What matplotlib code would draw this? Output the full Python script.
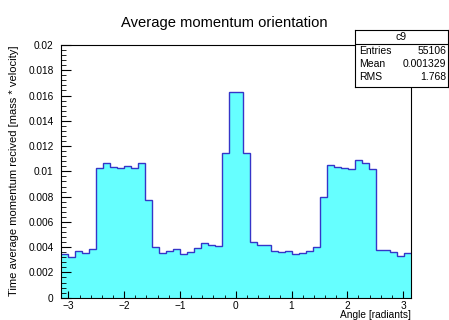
import numpy as np
import matplotlib
matplotlib.use("Agg")
import matplotlib.pyplot as plt
from matplotlib.ticker import MultipleLocator, FuncFormatter

plt.rcParams['font.family'] = ['Liberation Sans', 'DejaVu Sans']

# histogram contents, 50 bins over [-pi, pi]
values = [0.00348, 0.00325, 0.00367, 0.00351, 0.00385,
          0.01024, 0.01063, 0.01032, 0.01029, 0.01040,
          0.01029, 0.01063, 0.00770, 0.00398, 0.00351,
          0.00369, 0.00385, 0.00343, 0.00364, 0.00390,
          0.00435, 0.00414, 0.00406, 0.01142, 0.01625,
          0.01631, 0.01142, 0.00438, 0.00414, 0.00414,
          0.00369, 0.00361, 0.00369, 0.00343, 0.00351,
          0.00369, 0.00398, 0.00794, 0.01050, 0.01037,
          0.01029, 0.01018, 0.01087, 0.01069, 0.01018,
          0.00377, 0.00377, 0.00364, 0.00330, 0.00351]
edges = np.linspace(-np.pi, np.pi, len(values) + 1)

stat_names = ["Entries", "Mean", "RMS"]
stat_values = ["55106", "0.001329", "1.768"]

W, H = 449, 320
fig = plt.figure(figsize=(W / 100, H / 100), dpi=100)

# main frame (pixel coords of the reference)
ax = fig.add_axes([60.5 / W, 1 - 297.7 / H, (411 - 60.5) / W, (297.7 - 45) / H])
ax.stairs(values, edges, fill=True, color='#66ffff', baseline=0)
ax.stairs(values, edges, color='#3535c8', linewidth=1.0, baseline=None)
ax.set_xlim(-np.pi, np.pi)
ax.set_ylim(0, 0.02)

ax.xaxis.set_major_locator(MultipleLocator(1))
ax.xaxis.set_minor_locator(MultipleLocator(0.2))
ax.yaxis.set_major_locator(MultipleLocator(0.002))
ax.yaxis.set_minor_locator(MultipleLocator(0.0004))
ax.yaxis.set_major_formatter(FuncFormatter(lambda v, p: '{:g}'.format(round(v, 6))))
ax.tick_params(axis='both', which='both', direction='in', labelsize=7.3,
               top=False, right=False)
ax.tick_params(axis='y', which='major', length=7.5, pad=5)
ax.tick_params(axis='y', which='minor', length=3.8)
ax.tick_params(axis='x', which='major', length=5, pad=2.5)
ax.tick_params(axis='x', which='minor', length=2.5)
for s in ax.spines.values():
    s.set_linewidth(0.8)

fig.text(224 / W, 1 - 22.5 / H, "Average momentum orientation",
         ha='center', va='center', fontsize=10.6)
fig.text(411 / W, 1 - 315 / H, "Angle [radiants]", ha='right', va='center',
         fontsize=7.3)
fig.text(14 / W, 1 - 45 / H, "Time average momentum recived [mass * velocity]",
         ha='center', va='top', rotation=90, fontsize=8.0)

# stats box
sb = fig.add_axes([355 / W, 1 - 87 / H, (448 - 355) / W, (87 - 30) / H])
sb.set_xticks([])
sb.set_yticks([])
sb.set_xlim(0, 1)
sb.set_ylim(0, 1)
for s in sb.spines.values():
    s.set_linewidth(0.8)
sb.axhline(0.755, color='black', linewidth=0.8)
sb.text(0.5, 0.877, "c9", ha='center', va='center', fontsize=7.5)
for i, (n, v) in enumerate(zip(stat_names, stat_values)):
    y = 0.632 - i * 0.232
    sb.text(0.043, y, n, ha='left', va='center', fontsize=7.5)
    sb.text(0.978, y, v, ha='right', va='center', fontsize=7.5)

fig.savefig("out.png", dpi=100)
